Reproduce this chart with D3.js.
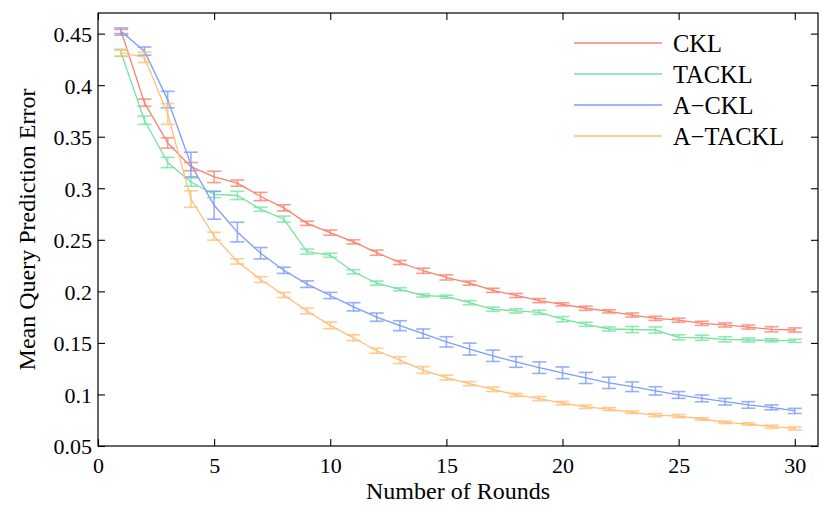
<!DOCTYPE html>
<html>
<head>
<meta charset="utf-8">
<script src="https://cdn.jsdelivr.net/npm/d3@7"></script>
<style>
  body { margin: 0; background: #fff; }
  svg text { font-family: "Liberation Serif", "Times New Roman", serif !important; fill: #000; }
</style>
</head>
<body>
<div id="chart"></div>
<script>
// rounds 1..30
const rounds = d3.range(1, 31);

const seriesNames = ["CKL", "TACKL", "A\u2212CKL", "A\u2212TACKL"];
const seriesColors = ["#f9836f", "#78e3a1", "#7c9df8", "#ffbf78"];

const cklMean = [0.452, 0.383, 0.344, 0.321, 0.311, 0.305, 0.292, 0.281, 0.266, 0.257,
  0.248, 0.2375, 0.228, 0.220, 0.2135, 0.208, 0.201, 0.196, 0.191, 0.1874,
  0.1836, 0.1806, 0.177, 0.1738, 0.172, 0.169, 0.1674, 0.1654, 0.1632, 0.1625];
const cklErr = [0.002, 0.0035, 0.005, 0.004, 0.0055, 0.003, 0.004, 0.003, 0.002, 0.0025,
  0.002, 0.0025, 0.002, 0.0025, 0.0025, 0.002, 0.002, 0.002, 0.002, 0.0015,
  0.002, 0.0015, 0.002, 0.002, 0.002, 0.002, 0.002, 0.002, 0.0025, 0.002];

const tacklMean = [0.431, 0.366, 0.325, 0.306, 0.294, 0.293, 0.2796, 0.270, 0.2385, 0.235,
  0.219, 0.208, 0.202, 0.196, 0.1948, 0.189, 0.1826, 0.181, 0.1797, 0.173,
  0.168, 0.1635, 0.163, 0.1625, 0.1554, 0.155, 0.1535, 0.1528, 0.1525, 0.152];
const tacklErr = [0.003, 0.004, 0.005, 0.004, 0.003, 0.004, 0.002, 0.003, 0.0025, 0.002,
  0.002, 0.002, 0.0015, 0.0015, 0.0015, 0.002, 0.002, 0.002, 0.002, 0.0025,
  0.002, 0.002, 0.003, 0.003, 0.0025, 0.0025, 0.0025, 0.002, 0.0015, 0.0015];

const acklMean = [0.452, 0.433, 0.386, 0.323, 0.2835, 0.2575, 0.237, 0.2204, 0.207, 0.196,
  0.185, 0.175, 0.1667, 0.159, 0.151, 0.144, 0.1375, 0.1315, 0.126, 0.121,
  0.116, 0.1113, 0.1075, 0.1035, 0.0995, 0.0962, 0.093, 0.0898, 0.0875, 0.084];
const acklErr = [0.0035, 0.004, 0.008, 0.012, 0.0135, 0.0095, 0.0055, 0.003, 0.0032, 0.003,
  0.004, 0.004, 0.0048, 0.0045, 0.005, 0.0058, 0.0055, 0.0052, 0.0056, 0.0057,
  0.0054, 0.0055, 0.0047, 0.004, 0.0033, 0.0033, 0.0032, 0.0032, 0.0024, 0.0025];

const atacklMean = [0.4315, 0.427, 0.372, 0.2895, 0.2535, 0.229, 0.2115, 0.1965, 0.181, 0.167,
  0.155, 0.1424, 0.1333, 0.1237, 0.1164, 0.1105, 0.105, 0.0995, 0.096, 0.0915,
  0.088, 0.0858, 0.0827, 0.080, 0.079, 0.0762, 0.073, 0.0713, 0.0687, 0.067];
const atacklErr = [0.0035, 0.005, 0.01, 0.008, 0.0038, 0.0025, 0.0028, 0.0025, 0.0028, 0.0033,
  0.0028, 0.0024, 0.0033, 0.0033, 0.0024, 0.002, 0.0022, 0.0015, 0.002, 0.0016,
  0.0016, 0.0015, 0.0012, 0.0015, 0.0015, 0.0012, 0.0012, 0.0012, 0.0015, 0.0015];

const xTicks = [0, 5, 10, 15, 20, 25, 30];
const yTicks = [0.05, 0.1, 0.15, 0.2, 0.25, 0.3, 0.35, 0.4, 0.45];

const means = [cklMean, tacklMean, acklMean, atacklMean];
const errs = [cklErr, tacklErr, acklErr, atacklErr];

const width = 830, height = 509;
const margin = { top: 13, right: 12, bottom: 63, left: 98 };
const iw = width - margin.left - margin.right;
const ih = height - margin.top - margin.bottom;
const serif = '"Liberation Serif", "Times New Roman", serif';

const svg = d3.select("#chart").append("svg")
  .attr("width", width)
  .attr("height", height)
  .attr("font-family", serif);

const g = svg.append("g").attr("transform", `translate(${margin.left},${margin.top})`);

const x = d3.scaleLinear().domain([0, 31]).range([0, iw]);
const y = d3.scaleLinear().domain([0.05, 0.47]).range([ih, 0]);

// series: lines + error bars
const capW = 7;
means.forEach((m, si) => {
  const color = seriesColors[si];
  const pts = rounds.map((r, i) => ({ r, v: m[i], e: errs[si][i] }));

  const eg = g.append("g").attr("stroke", color).attr("stroke-opacity", 0.8).attr("stroke-width", 1.6);
  eg.selectAll(".v").data(pts).enter().append("line")
    .attr("x1", d => x(d.r)).attr("x2", d => x(d.r))
    .attr("y1", d => y(d.v - d.e)).attr("y2", d => y(d.v + d.e));
  eg.selectAll(".t").data(pts).enter().append("line")
    .attr("x1", d => x(d.r) - capW).attr("x2", d => x(d.r) + capW)
    .attr("y1", d => y(d.v + d.e)).attr("y2", d => y(d.v + d.e));
  eg.selectAll(".b").data(pts).enter().append("line")
    .attr("x1", d => x(d.r) - capW).attr("x2", d => x(d.r) + capW)
    .attr("y1", d => y(d.v - d.e)).attr("y2", d => y(d.v - d.e));

  g.append("path")
    .datum(pts)
    .attr("fill", "none")
    .attr("stroke", color)
    .attr("stroke-width", 1.3)
    .attr("d", d3.line().x(d => x(d.r)).y(d => y(d.v)));
});

// frame
g.append("rect")
  .attr("width", iw).attr("height", ih)
  .attr("fill", "none").attr("stroke", "#000").attr("stroke-width", 1.2);

// axes with inward ticks on all sides
const tickLen = 7;
const fixAxis = a => a.attr("font-family", serif).call(s => s.select(".domain").remove());

g.append("g")
  .attr("transform", `translate(0,${ih})`)
  .call(d3.axisBottom(x).tickValues(xTicks).tickSize(-tickLen).tickPadding(11).tickFormat(d3.format("d")))
  .call(fixAxis)
  .call(a => a.selectAll("text").attr("font-size", 22).attr("dy", "0.71em"));

g.append("g")
  .call(d3.axisTop(x).tickValues(xTicks).tickSize(-tickLen).tickFormat(""))
  .call(fixAxis);

g.append("g")
  .call(d3.axisLeft(y).tickValues(yTicks).tickSize(-tickLen).tickPadding(6).tickFormat(d => String(+d.toFixed(2))))
  .call(fixAxis)
  .call(a => a.selectAll("text").attr("font-size", 22).attr("dy", "0.36em"));

g.append("g")
  .attr("transform", `translate(${iw},0)`)
  .call(d3.axisRight(y).tickValues(yTicks).tickSize(-tickLen).tickFormat(""))
  .call(fixAxis);

g.selectAll(".tick line").attr("stroke", "#000").attr("stroke-width", 1.1);

// axis labels
svg.append("text")
  .attr("x", margin.left + iw / 2)
  .attr("y", 499)
  .attr("text-anchor", "middle")
  .attr("font-size", 24)
  .text("Number of Rounds");

svg.append("text")
  .attr("transform", `translate(35,${margin.top + ih / 2}) rotate(-90)`)
  .attr("text-anchor", "middle")
  .attr("font-size", 24)
  .text("Mean Query Prediction Error");

// legend
const legend = svg.append("g").attr("transform", "translate(574,43)");
seriesNames.forEach((name, i) => {
  const row = legend.append("g").attr("transform", `translate(0,${i * 31})`);
  row.append("line")
    .attr("x1", 0).attr("x2", 88)
    .attr("stroke", seriesColors[i]).attr("stroke-width", 1.4);
  row.append("text")
    .attr("x", 99).attr("y", 9)
    .attr("font-size", 24.5)
    .text(name);
});
</script>
</body>
</html>
